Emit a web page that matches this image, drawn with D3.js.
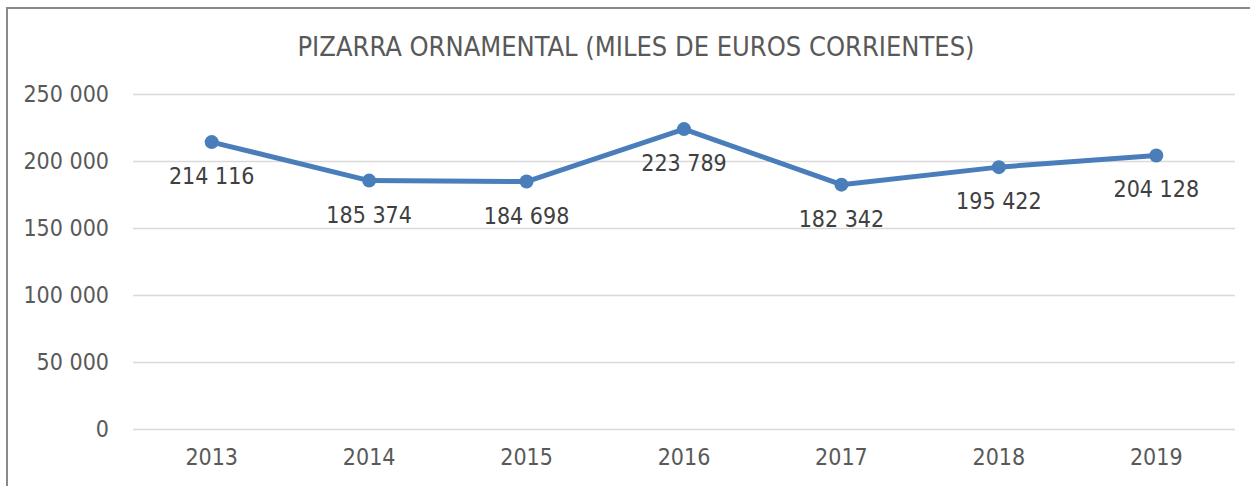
<!DOCTYPE html>
<html><head><meta charset="utf-8">
<script src="https://cdn.jsdelivr.net/npm/d3@7"></script>
<style>body{margin:0;background:#fff;} svg{display:block;}</style>
</head><body>
<script>
const categories = ["2013","2014","2015","2016","2017","2018","2019"];
const values = [214116,185374,184698,223789,182342,195422,204128];
const yTicks = [0,50000,100000,150000,200000,250000];
const title = "PIZARRA ORNAMENTAL (MILES DE EUROS CORRIENTES)";

const W=1250,H=486;
const font = "'DejaVu Sans Condensed','DejaVu Sans',sans-serif";
const svg = d3.select("body").append("svg").attr("width",W).attr("height",H);
svg.append("rect").attr("x",7).attr("y",8).attr("width",W+20).attr("height",H+20)
  .attr("fill","#fff").attr("stroke","#898989").attr("stroke-width",2);

const x = d3.scaleBand().domain(categories).range([133,1235]);
const y = d3.scaleLinear().domain([0,250000]).range([429,94]);
const fmt = v => d3.format(",")(v).replace(/,/g," ");

svg.append("text").attr("x",636).attr("y",46).attr("text-anchor","middle")
  .attr("dominant-baseline","central").attr("font-family",font).attr("font-size",27)
  .attr("fill","#595959").text(title);

const gy = svg.append("g").attr("transform","translate(133,0)")
  .call(d3.axisLeft(y).tickValues(yTicks).tickSize(-(1235-133)).tickPadding(24).tickFormat(fmt));
gy.select(".domain").remove();
gy.selectAll(".tick line").attr("stroke","#d9d9d9").attr("stroke-width",1.5);
gy.selectAll(".tick text").attr("font-family",font).attr("font-size",23).attr("fill","#595959");

const gx = svg.append("g").attr("transform","translate(0,429)")
  .call(d3.axisBottom(x).tickSize(0).tickPadding(20));
gx.select(".domain").remove();
gx.selectAll(".tick text").attr("font-family",font).attr("font-size",23).attr("fill","#595959");

const cx = (d,i)=>x(categories[i])+x.bandwidth()/2;
const line = d3.line().x((d,i)=>cx(d,i)).y(d=>y(d));
svg.append("path").datum(values).attr("d",line).attr("fill","none")
  .attr("stroke","#4a7ebb").attr("stroke-width",5).attr("stroke-linejoin","round");
svg.selectAll("circle.pt").data(values).enter().append("circle")
  .attr("cx",cx).attr("cy",d=>y(d)).attr("r",7).attr("fill","#4a7ebb");
svg.selectAll("text.lbl").data(values).enter().append("text")
  .attr("x",cx).attr("y",d=>y(d)+34).attr("text-anchor","middle").attr("dominant-baseline","central")
  .attr("font-family",font).attr("font-size",23).attr("fill","#404040").text(fmt);
</script>
</body></html>
